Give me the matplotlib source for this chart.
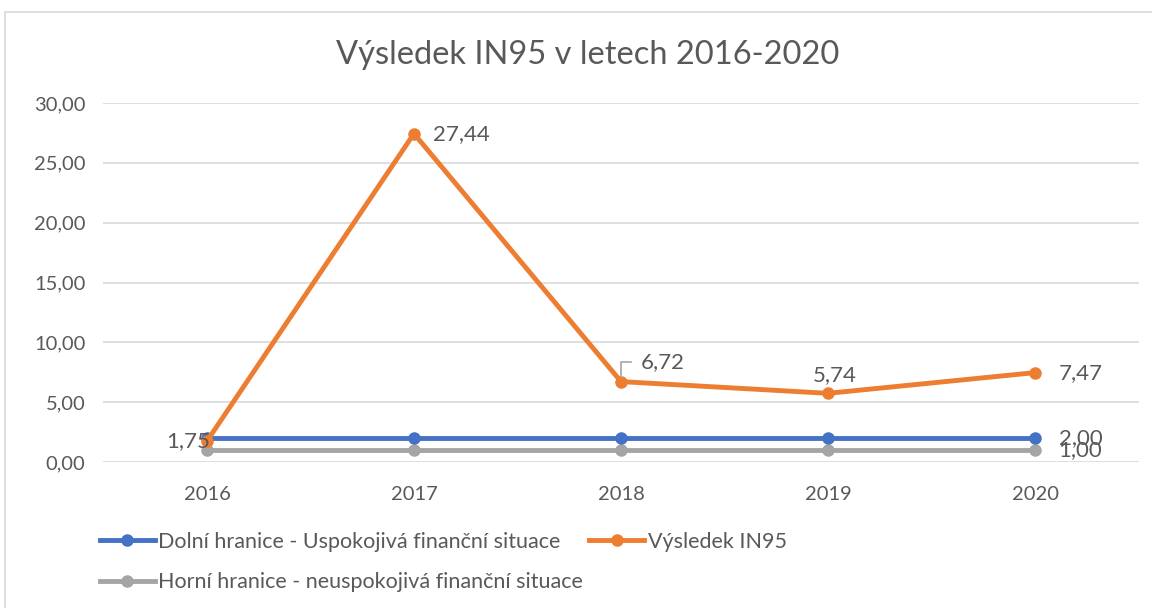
import matplotlib.pyplot as plt
from matplotlib.patches import Rectangle

# data
roky = ['2016', '2017', '2018', '2019', '2020']
dolni_hranice = [2.00, 2.00, 2.00, 2.00, 2.00]
vysledek_in95 = [1.75, 27.44, 6.72, 5.74, 7.47]
horni_hranice = [1.00, 1.00, 1.00, 1.00, 1.00]
y_ticks = [0, 5, 10, 15, 20, 25, 30]

barva_text = '#595959'
plt.rcParams['font.family'] = ['Lato', 'DejaVu Sans']


def fmt(v):
    return f'{v:.2f}'.replace('.', ',')


fig = plt.figure(figsize=(11.52, 6.08), dpi=100)
ax = fig.add_axes([0.0898, 0.2401, 0.8985, 0.5905])

# ramecek grafu
fig.patches.append(Rectangle((5 / 1152, -0.1), 1.2, 1 - 12 / 608 + 0.1, transform=fig.transFigure,
                             fill=False, edgecolor='#d9d9d9', linewidth=1.2))

x = list(range(len(roky)))
ax.plot(x, horni_hranice, color='#a5a5a5', linewidth=3.5, marker='o', markersize=8,
        label='Horní hranice - neuspokojivá finanční situace', zorder=3)
ax.plot(x, dolni_hranice, color='#4472c4', linewidth=3.5, marker='o', markersize=8,
        label='Dolní hranice - Uspokojivá finanční situace', zorder=4)
ax.plot(x, vysledek_in95, color='#ed7d31', linewidth=3.5, marker='o', markersize=8,
        label='Výsledek IN95', zorder=5)

ax.set_xlim(-0.5, len(roky) - 0.5)
ax.set_ylim(0, 30)
ax.set_yticks(y_ticks)
ax.set_yticklabels([fmt(v) for v in y_ticks])
ax.set_xticks(x)
ax.set_xticklabels(roky)
ax.tick_params(axis='both', length=0, labelsize=14.5, colors=barva_text)
ax.tick_params(axis='x', pad=17)
ax.tick_params(axis='y', pad=13)
ax.grid(axis='y', color='#d9d9d9', linewidth=1.2)
ax.set_axisbelow(True)
for s in ax.spines.values():
    s.set_visible(False)

# popisky dat
lbl = dict(fontsize=16, color=barva_text, zorder=6, textcoords='offset points', va='center')
ax.annotate(fmt(vysledek_in95[0]), (x[0], vysledek_in95[0]), xytext=(2, 0), ha='right', **lbl)
ax.annotate(fmt(vysledek_in95[1]), (x[1], vysledek_in95[1]), xytext=(14, 0), ha='left', **lbl)
ax.annotate(fmt(vysledek_in95[2]), (x[2], vysledek_in95[2]), xytext=(14, 14), ha='left', **lbl)
# vodici cara pro 6,72
ax.plot([x[2], x[2], x[2] + 0.05], [vysledek_in95[2] + 0.4, vysledek_in95[2] + 1.6, vysledek_in95[2] + 1.6],
        color='#a5a5a5', linewidth=1.2, zorder=6)
ax.annotate(fmt(vysledek_in95[3]), (x[3], vysledek_in95[3]), xytext=(5, 13), ha='center', **lbl)
ax.annotate(fmt(vysledek_in95[4]), (x[4], vysledek_in95[4]), xytext=(17, 0), ha='left', **lbl)
ax.annotate(fmt(dolni_hranice[4]), (x[4], dolni_hranice[4]), xytext=(17, 0), ha='left', **lbl)
ax.annotate(fmt(horni_hranice[4]), (x[4], horni_hranice[4]), xytext=(17, 0), ha='left', **lbl)

fig.suptitle('Výsledek IN95 v letech 2016-2020', x=0.51, y=0.935, fontsize=23.5, color=barva_text)

h, l = ax.get_legend_handles_labels()
order = [1, 0, 2]
leg = fig.legend([h[i] for i in order], [l[i] for i in order], ncol=2, loc='upper left',
                 bbox_to_anchor=(100 / 1152, 1 - 532 / 608), frameon=False, fontsize=15.5,
                 handlelength=2.55, handletextpad=0.15, columnspacing=0.3, labelspacing=0.95,
                 borderpad=0, borderaxespad=0, labelcolor=barva_text)

fig.savefig('out.png', dpi=100)
